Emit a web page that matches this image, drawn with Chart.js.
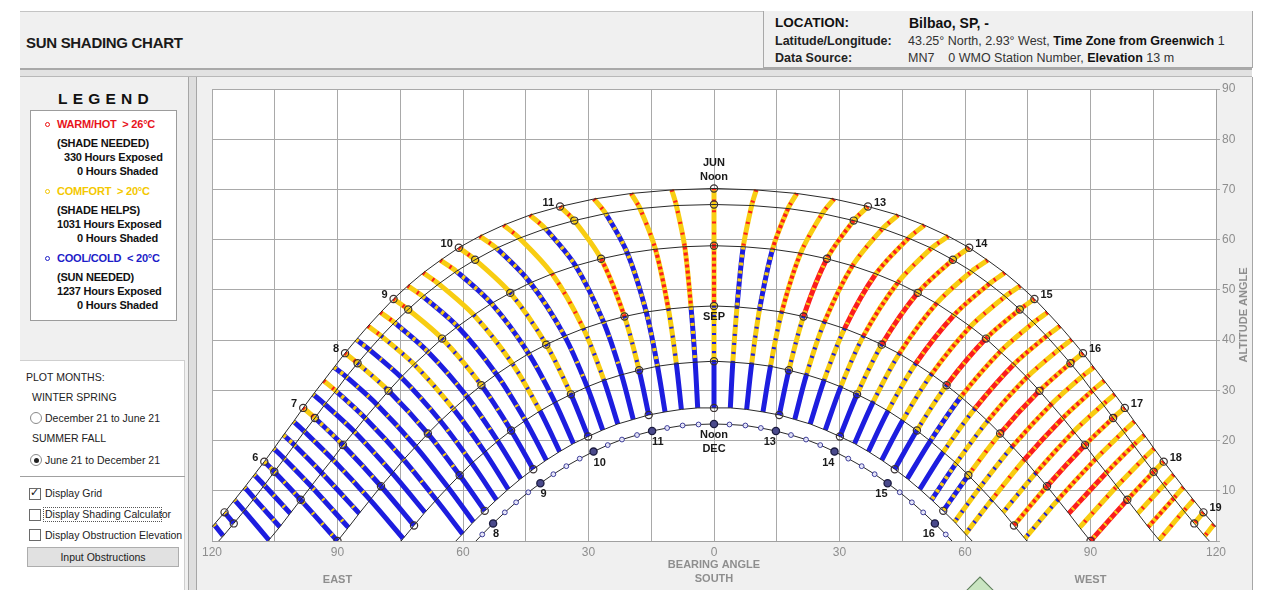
<!DOCTYPE html>
<html><head><meta charset="utf-8">
<script src="https://cdn.jsdelivr.net/npm/chart.js@4.4.1/dist/chart.umd.min.js"></script>
<style>
html,body{margin:0;padding:0;background:#fff;width:1263px;height:590px;overflow:hidden;font-family:"Liberation Sans",Arial,sans-serif;}
.a{position:absolute;white-space:nowrap;}
.b{font-weight:bold;}
.lg{font:bold 11px/13px "Liberation Sans",Arial,sans-serif;color:#111;letter-spacing:-0.2px;}
.ct{font:10.5px/13px "Liberation Sans",Arial,sans-serif;color:#222;}
.dot{position:absolute;width:3px;height:3px;border-radius:50%;border:1px solid;}
.rad{position:absolute;width:10px;height:10px;border-radius:50%;border:1px solid #8a8a8a;background:#fff;}
.chk{position:absolute;width:10px;height:10px;border:1px solid #6a6a6a;background:#fff;}
</style>
</head><body>
<!-- header -->
<div class="a" style="left:20px;top:11px;width:1232px;height:57px;background:#f0f0f0;border-top:1px solid #c4c4c4;"></div>
<div class="a" style="left:763px;top:11px;width:488px;height:56px;border:1px solid #a8a8a8;border-top:none;background:#f0f0f0;"></div>
<div class="a b" style="left:26px;top:34px;font-size:15px;line-height:17px;color:#1a1a1a;letter-spacing:-0.3px;">SUN SHADING CHART</div>
<div class="a b" style="left:775px;top:15px;font-size:13.5px;line-height:16px;color:#111;">LOCATION:</div>
<div class="a b" style="left:909px;top:15px;font-size:14px;line-height:16px;color:#111;">Bilbao, SP, -</div>
<div class="a" style="left:775px;top:34px;font-size:12.5px;line-height:15px;color:#222;"><b>Latitude/Longitude:</b></div>
<div class="a" style="left:908px;top:34px;font-size:12.5px;line-height:15px;color:#333;">43.25° North, 2.93° West, <b style="color:#111">Time Zone from Greenwich</b> 1</div>
<div class="a" style="left:775px;top:51px;font-size:12.5px;line-height:15px;color:#222;"><b>Data Source:</b></div>
<div class="a" style="left:908px;top:51px;font-size:12.5px;line-height:15px;color:#333;">MN7&nbsp;&nbsp;&nbsp;&nbsp;0 WMO Station Number, <b style="color:#111">Elevation</b> 13 m</div>
<!-- double line under header -->
<div class="a" style="left:20px;top:68px;width:1232px;height:6px;background:#e2e2e2;border-top:2px solid #a9a9a9;border-bottom:1px solid #b8b8b8;"></div>
<!-- left panel -->
<div class="a" style="left:20px;top:77px;width:168px;height:513px;background:#f0f0f0;"></div>
<div class="a" style="left:188px;top:77px;width:7px;height:513px;background:#dedede;border-left:1px solid #a6a6a6;border-right:1px solid #a6a6a6;"></div>
<!-- chart panel bg -->
<div class="a" style="left:197px;top:77px;width:1055px;height:513px;background:#f0f0f0;"></div>
<div class="a" style="left:1252px;top:77px;width:1px;height:513px;background:#a6a6a6;"></div>

<div class="a b" style="left:58px;top:90px;font-size:15.5px;line-height:18px;letter-spacing:5.2px;color:#111;">LEGEND</div>
<div class="a" style="left:30px;top:110px;width:145px;height:209px;background:#fff;border:1px solid #9c9c9c;"></div>
<span class="dot" style="left:45px;top:122px;border-color:#e11;"></span>
<div class="a lg" style="left:57px;top:118px;color:#e8141c;">WARM/HOT&nbsp; &gt; 26°C</div>
<div class="a lg" style="left:57px;top:137px;">(SHADE NEEDED)</div>
<div class="a lg" style="left:64px;top:151px;">330 Hours Exposed</div>
<div class="a lg" style="left:77px;top:165px;">0 Hours Shaded</div>
<span class="dot" style="left:45px;top:189px;border-color:#f2c400;"></span>
<div class="a lg" style="left:57px;top:185px;color:#f4c800;">COMFORT&nbsp; &gt; 20°C</div>
<div class="a lg" style="left:57px;top:204px;">(SHADE HELPS)</div>
<div class="a lg" style="left:57px;top:218px;">1031 Hours Exposed</div>
<div class="a lg" style="left:77px;top:232px;">0 Hours Shaded</div>
<span class="dot" style="left:45px;top:256px;border-color:#2020c8;"></span>
<div class="a lg" style="left:57px;top:252px;color:#1c1cc8;">COOL/COLD&nbsp; &lt; 20°C</div>
<div class="a lg" style="left:57px;top:271px;">(SUN NEEDED)</div>
<div class="a lg" style="left:57px;top:285px;">1237 Hours Exposed</div>
<div class="a lg" style="left:77px;top:299px;">0 Hours Shaded</div>

<div class="a" style="left:20px;top:360px;width:164px;height:230px;background:#fff;border-top:1px solid #cfcfcf;border-right:1px solid #cfcfcf;"></div>
<div class="a" style="left:20px;top:476px;width:165px;height:1px;background:#a0a0a0;"></div>
<div class="a ct" style="left:26px;top:371px;">PLOT MONTHS:</div>
<div class="a ct" style="left:32px;top:391px;">WINTER SPRING</div>
<span class="rad" style="left:30px;top:412px;"></span>
<div class="a ct" style="left:45px;top:412px;">December 21 to June 21</div>
<div class="a ct" style="left:32px;top:432px;">SUMMER FALL</div>
<span class="rad" style="left:30px;top:454px;"><span style="position:absolute;left:2.5px;top:2.5px;width:5px;height:5px;border-radius:50%;background:#222;"></span></span>
<div class="a ct" style="left:45px;top:454px;">June 21 to December 21</div>
<span class="chk" style="left:29px;top:488px;"><span style="position:absolute;left:0px;top:-3px;font:bold 11px/14px 'DejaVu Sans';color:#111;">✓</span></span>
<div class="a ct" style="left:45px;top:487px;">Display Grid</div>
<span class="chk" style="left:29px;top:509px;"></span>
<div class="a" style="left:43px;top:507px;width:117px;height:13px;border:1px dotted #555;"></div>
<div class="a ct" style="left:45px;top:508px;">Display Shading Calculator</div>
<span class="chk" style="left:29px;top:529px;"></span>
<div class="a ct" style="left:45px;top:529px;">Display Obstruction Elevation</div>
<div class="a ct" style="left:27px;top:547px;width:150px;height:18px;background:#e1e1e1;border:1px solid #adadad;text-align:center;line-height:18px;">Input Obstructions</div>

<canvas id="c" width="1056" height="512" style="position:absolute;left:196px;top:78px;width:1056px;height:512px;"></canvas>
<!-- north marker (diamond) -->
<div class="a" style="left:964px;top:583px;width:30px;height:30px;background:#c9e5c1;border:1px solid #5d7d5a;transform:rotate(45deg);"></div>

<script>
// ---- values (morning half; afternoon is its mirror) ----
// quarter-hour steps before solar noon: index k -> 12:00 minus k*15 min
const MONTHS = ['JUN','JUL','AUG','SEP','OCT','NOV','DEC'];
const JUN_BRG = [0.0,-10.1,-19.8,-28.7,-36.8,-44.0,-50.3,-56.0,-61.0,-65.4,-69.5,-73.2,-76.6,-79.7,-82.7,-85.5,-88.2,-90.8,-93.3,-95.8,-98.2,-100.5,-102.9,-105.2,-107.5,-109.9,-112.2,-114.6,-117.0,-119.5,-122.0];
const JUN_ALT = [70.2,69.9,69.2,68.1,66.6,64.9,62.9,60.7,58.4,55.9,53.4,50.8,48.2,45.5,42.8,40.1,37.4,34.6,31.9,29.2,26.5,23.8,21.1,18.4,15.8,13.2,10.7,8.2,5.7,3.3,1.0];
const JUL_BRG = [0.0,-9.0,-17.7,-25.9,-33.4,-40.3,-46.5,-52.0,-57.1,-61.6,-65.8,-69.6,-73.1,-76.4,-79.5,-82.4,-85.2,-87.9,-90.4,-93.0,-95.4,-97.9,-100.3,-102.7,-105.1,-107.5,-109.9,-112.3,-114.8,-117.3];
const JUL_ALT = [67.0,66.8,66.2,65.2,63.8,62.2,60.3,58.3,56.0,53.7,51.2,48.7,46.1,43.5,40.8,38.1,35.4,32.7,29.9,27.2,24.5,21.8,19.1,16.4,13.8,11.1,8.5,6.0,3.5,1.0];
const AUG_BRG = [0.0,-7.0,-14.0,-20.7,-27.0,-33.1,-38.7,-43.9,-48.7,-53.2,-57.4,-61.3,-65.0,-68.4,-71.7,-74.8,-77.8,-80.6,-83.4,-86.0,-88.7,-91.2,-93.8,-96.3,-98.8,-101.3,-103.8,-106.4];
const AUG_ALT = [58.8,58.6,58.1,57.3,56.2,54.8,53.2,51.4,49.4,47.3,45.0,42.7,40.3,37.7,35.2,32.6,29.9,27.2,24.5,21.8,19.1,16.3,13.6,10.9,8.2,5.5,2.8,0.2];
const SEP_BRG = [0.0,-5.5,-10.9,-16.2,-21.4,-26.4,-31.2,-35.7,-40.1,-44.3,-48.2,-52.0,-55.6,-59.0,-62.3,-65.4,-68.4,-71.3,-74.2,-76.9,-79.6,-82.2,-84.8,-87.4,-90.0];
const SEP_ALT = [46.8,46.6,46.2,45.6,44.7,43.6,42.3,40.8,39.1,37.3,35.3,33.2,31.0,28.7,26.3,23.9,21.4,18.8,16.2,13.5,10.9,8.2,5.5,2.7,0.0];
const OCT_BRG = [0.0,-4.5,-9.0,-13.5,-17.9,-22.1,-26.3,-30.3,-34.2,-38.0,-41.6,-45.1,-48.5,-51.7,-54.8,-57.9,-60.8,-63.6,-66.4,-69.1,-71.7,-74.3];
const OCT_ALT = [35.8,35.6,35.3,34.8,34.0,33.1,32.0,30.7,29.2,27.6,25.9,24.0,22.0,19.9,17.7,15.5,13.1,10.7,8.2,5.7,3.1,0.5];
const NOV_BRG = [0.0,-3.9,-7.8,-11.7,-15.6,-19.3,-23.0,-26.6,-30.1,-33.6,-36.9,-40.1,-43.2,-46.2,-49.2,-52.0,-54.8,-57.5,-60.1];
const NOV_ALT = [26.5,26.5,26.2,25.7,25.1,24.2,23.3,22.1,20.8,19.4,17.8,16.1,14.3,12.4,10.3,8.2,6.0,3.8,1.4];
const DEC_BRG = [0.0,-3.7,-7.5,-11.2,-14.8,-18.4,-22.0,-25.4,-28.8,-32.1,-35.3,-38.4,-41.5,-44.4,-47.3,-50.0,-52.8,-55.4];
const DEC_ALT = [23.3,23.2,23.0,22.5,21.9,21.1,20.2,19.1,17.8,16.4,14.9,13.3,11.5,9.7,7.7,5.7,3.5,1.3];
const SUNRISE_BRG = [-123.1,-118.4,-106.6,-90.0,-74.8,-61.7,-56.9];

// comfort colour of each quarter-hour line, per month segment Jun-Jul, Jul-Aug, Aug-Sep, Sep-Oct, Oct-Nov
// R red, r red/yellow, y yellow (few red), Y yellow, g yellow/blue, m blue/yellow, n blue (few yellow), B blue
const AM_CODES = ['yyrgB','yyrmB','yyrgB','ymmmB','yYrgB','ymmnB','yYygB','ymmnB','yYggB','ymmnB',
                  'yYggB','ymnnB','yYgnB','ymnnB','yggnB','mnnnB','ygnnB','mnnBB','ymnnB','nnnBB',
                  'ymnBB','nnnBB','mnnnB','nnnBB','mnnBB','nnnBB','nnBnn','nBnnn','nnnnn','nnnnn'];
const PM_CODES = ['','yymgB','yrmgB','yyrgB','yrRgB','yyrgB','yrRgB','yyrgB','yrRgB','yyrgB',
                  'yrRgB','yyrgB','yrRgB','yyrmB','yrRgB','yyrgm','yrRym','yyrgg','yrRyg','yyrgg',
                  'yrRrg','yyrgg','yrRrg','yyygg','yrRrg','yyrgg','yrrgg','yyrgg','yrrgg','yrggg'];

const JUN_HOURS_AM = [6,7,8,9,10,11];
const JUN_HOURS_PM = [13,14,15,16,17,18,19];
const DEC_HOURS_AM = [8,9,10,11];
const DEC_HOURS_PM = [13,14,15,16];
const X_TICKS = [-120,-90,-60,-30,0,30,60,90,120];

// ---- build ----
const BRG = [JUN_BRG,JUL_BRG,AUG_BRG,SEP_BRG,OCT_BRG,NOV_BRG,DEC_BRG];
const ALT = [JUN_ALT,JUL_ALT,AUG_ALT,SEP_ALT,OCT_ALT,NOV_ALT,DEC_ALT];
const RED='#fb1d1d', YEL='#f8cd12', BLUE='#1d1ddf';
const BASE={R:RED,r:YEL,y:YEL,Y:YEL,g:YEL,m:BLUE,n:BLUE,B:BLUE};
const OVER={R:[YEL,[2,6]],r:[RED,[3,3]],y:[RED,[2,9]],g:[BLUE,[2,7]],m:[YEL,[3,5]],n:[YEL,[2,12]]};

const datasets=[];
const pnt=(m,k,side)=>({x: side===1?BRG[m][k]:-BRG[m][k], y: ALT[m][k]});

// hour markers on Jun..Nov arcs
const mk=[];
for(let m=0;m<6;m++) for(let k=0;k<BRG[m].length;k+=4){ mk.push(pnt(m,k,1)); if(k>0) mk.push(pnt(m,k,-1)); }
datasets.push({data:mk, showLine:false, pointRadius:3.6, pointBorderWidth:1.2, pointBorderColor:'#3a3232', pointBackgroundColor:'rgba(0,0,0,0)', order:0, clip:0});
// Dec quarter-hour circles and hour markers
const dq=[], dh=[];
for(let k=0;k<DEC_BRG.length;k++){ const arr=(k%4===0)?dh:dq; arr.push(pnt(6,k,1)); if(k>0) arr.push(pnt(6,k,-1)); }
datasets.push({data:dh, showLine:false, pointRadius:3.6, pointBorderWidth:1.3, pointBorderColor:'#1c1c40', pointBackgroundColor:'#4a4a8c', order:0, clip:0});
datasets.push({data:dq, showLine:false, pointRadius:2.4, pointBorderWidth:1, pointBorderColor:'#3c3c98', pointBackgroundColor:'rgba(235,235,255,0.9)', order:0, clip:0});
// month arcs
for(let m=0;m<7;m++){
  const d=[{x:SUNRISE_BRG[m],y:0}];
  for(let k=BRG[m].length-1;k>=0;k--) d.push(pnt(m,k,1));
  for(let k=1;k<BRG[m].length;k++) d.push(pnt(m,k,-1));
  d.push({x:-SUNRISE_BRG[m],y:0});
  datasets.push({data:d, showLine:true, borderColor:'#2a2a2a', borderWidth:1, pointRadius:0, tension:0, order:1, clip:0});
}
// quarter-hour lines Jun -> Nov
for(const side of [1,-1]){
  for(let k=(side===1?0:1);k<30;k++){
    const d=[];
    for(let m=0;m<6;m++){ if(k<BRG[m].length) d.push(pnt(m,k,side)); else break; }
    if(d.length<2) continue;
    const code=(side===1?AM_CODES:PM_CODES)[k];
    datasets.push({data:d, showLine:true, pointRadius:0, borderWidth:5, tension:0.3, borderCapStyle:'butt', order:3, clip:0,
      segment:{borderColor:c=>BASE[code[c.p0DataIndex]]||BLUE}});
    datasets.push({data:d, showLine:true, pointRadius:0, borderWidth:4, tension:0.3, borderCapStyle:'butt', order:2, clip:0,
      segment:{borderColor:c=>{const o=OVER[code[c.p0DataIndex]];return o?o[0]:'rgba(0,0,0,0)';},
               borderDash:c=>{const o=OVER[code[c.p0DataIndex]];return o?o[1]:[];}}});
  }
}

const txtPlugin={
  id:'txt',
  beforeDraw(ch){const a=ch.chartArea,c=ch.ctx;c.save();c.fillStyle='#fff';c.fillRect(a.left,a.top,a.right-a.left,a.bottom-a.top);c.restore();},
  afterDraw(ch){
    const c=ch.ctx,X=ch.scales.x,Y=ch.scales.y,a=ch.chartArea;
    const P=(m,k,s)=>{const p=pnt(m,k,s);return [X.getPixelForValue(p.x),Y.getPixelForValue(p.y)];};
    c.save();
    c.font='bold 11px "Liberation Sans", Arial, sans-serif'; c.fillStyle='#1a1a1a'; c.textBaseline='middle';
    c.textAlign='right'; for(const h of JUN_HOURS_AM){const [x,y]=P(0,(12-h)*4,1); c.fillText(String(h),x-6,y-4);}
    c.textAlign='left';  for(const h of JUN_HOURS_PM){const [x,y]=P(0,(h-12)*4,-1); c.fillText(String(h),x+6,y-4);}
    c.textAlign='left';  for(const h of DEC_HOURS_AM){const [x,y]=P(6,(12-h)*4,1); c.fillText(String(h),x,y+11);}
    c.textAlign='right'; for(const h of DEC_HOURS_PM){const [x,y]=P(6,(h-12)*4,-1); c.fillText(String(h),x,y+11);}
    c.textAlign='center';
    let [x,y]=P(0,0,1); c.fillText('JUN',x,y-25); c.fillText('Noon',x,y-11);
    [x,y]=P(3,0,1); c.fillText('SEP',x,y+11);
    [x,y]=P(6,0,1); c.fillText('Noon',x,y+11); c.fillText('DEC',x,y+25);
    // axis titles
    c.fillStyle='#8e8e8e';
    c.fillText('BEARING ANGLE',X.getPixelForValue(0),a.bottom+24);
    c.fillText('SOUTH',X.getPixelForValue(0),a.bottom+38);
    c.fillText('EAST',X.getPixelForValue(-90),a.bottom+39);
    c.fillText('WEST',X.getPixelForValue(90),a.bottom+39);
    c.translate(a.right+28,Y.getPixelForValue(45)); c.rotate(-Math.PI/2);
    c.fillText('ALTITUDE ANGLE',0,0);
    c.restore();
  }
};

Chart.defaults.font.family='"Liberation Sans", Arial, sans-serif';
new Chart(document.getElementById('c'),{
  type:'scatter',
  data:{datasets},
  options:{
    responsive:false, animation:false, devicePixelRatio:1,
    layout:{padding:{left:16,top:11,right:0,bottom:0}},
    plugins:{legend:{display:false},tooltip:{enabled:false}},
    elements:{line:{fill:false}},
    scales:{
      x:{type:'linear',min:-120,max:120,
         afterFit:s=>{s.height=49;},
         afterBuildTicks:s=>{const t=[];for(let v=-120;v<=120;v+=15)t.push({value:v});s.ticks=t;},
         ticks:{autoSkip:false,maxRotation:0,padding:4,color:'#8e8e8e',font:{size:12},
                callback:v=>X_TICKS.includes(v)?String(Math.abs(v)):''},
         grid:{color:'#a9a9a9',lineWidth:1,drawTicks:false},
         border:{color:'#a0a0a0'}},
      y:{type:'linear',position:'right',min:0,max:90,
         afterFit:s=>{s.width=36;},
         ticks:{stepSize:10,padding:2,color:'#8e8e8e',font:{size:12},callback:v=>v===0?'':String(v)},
         grid:{color:'#a9a9a9',lineWidth:1,tickLength:4},
         border:{color:'#a0a0a0'}}
    }
  },
  plugins:[txtPlugin]
});
</script>
</body></html>
